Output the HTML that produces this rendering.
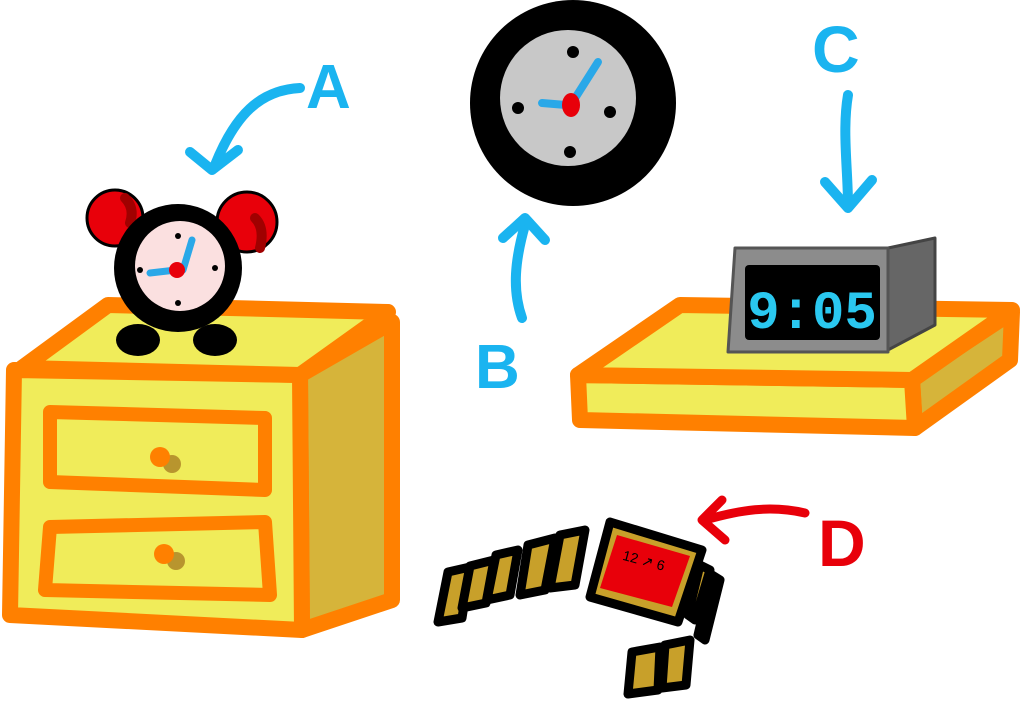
<!DOCTYPE html>
<html><head><meta charset="utf-8"><style>html,body{margin:0;padding:0;background:#fff}svg{display:block}</style></head>
<body>
<svg width="1023" height="705" viewBox="0 0 1023 705" xmlns="http://www.w3.org/2000/svg" stroke-linejoin="round" stroke-linecap="round">
<!-- nightstand -->
<polygon points="300,375 392,322 392,600 302,630" fill="#d6b43a" stroke="#ff8000" stroke-width="16"/>
<polygon points="14,370 300,375 302,630 10,615" fill="#f0ec5a" stroke="#ff8000" stroke-width="16"/>
<polygon points="22,368 108,305 388,312 300,375" fill="#f0ec5a" stroke="#ff8000" stroke-width="16"/>
<polygon points="50,412 265,418 265,490 50,482" fill="#f0ec5a" stroke="#ff8000" stroke-width="14"/>
<polygon points="50,527 265,522 270,595 45,590" fill="#f0ec5a" stroke="#ff8000" stroke-width="14"/>
<circle cx="172" cy="464" r="9" fill="#b8952e"/><circle cx="160" cy="457" r="10" fill="#ff8000"/>
<circle cx="176" cy="561" r="9" fill="#b8952e"/><circle cx="164" cy="554" r="10" fill="#ff8000"/>
<!-- alarm clock -->
<ellipse cx="115" cy="218" rx="28" ry="28" fill="#e8000a" stroke="#000" stroke-width="3"/>
<ellipse cx="247" cy="222" rx="30" ry="30" fill="#e8000a" stroke="#000" stroke-width="3"/>
<path d="M125 198 q10 10 5 25" stroke="#a00000" stroke-width="10" fill="none"/>
<path d="M255 218 q10 10 5 30" stroke="#a00000" stroke-width="10" fill="none"/>
<ellipse cx="138" cy="340" rx="22" ry="16" fill="#000"/><ellipse cx="215" cy="340" rx="22" ry="16" fill="#000"/>
<circle cx="178" cy="268" r="64" fill="#000"/>
<circle cx="180" cy="266" r="45" fill="#fbe0e0"/>
<path d="M183 270 L192 240 M176 270 L150 273" stroke="#2aa8e8" stroke-width="7" fill="none"/>
<circle cx="177" cy="270" r="8" fill="#e8000a"/>
<circle cx="178" cy="236" r="3" fill="#000"/><circle cx="140" cy="270" r="3" fill="#000"/><circle cx="215" cy="268" r="3" fill="#000"/><circle cx="178" cy="303" r="3" fill="#000"/>
<!-- arrow A -->
<path d="M300 88 C260 90 235 115 215 165" stroke="#1ab4f0" stroke-width="10" fill="none"/>
<path d="M190 152 L212 170 L238 150" stroke="#1ab4f0" stroke-width="10" fill="none"/>
<text x="306" y="108" font-family="Liberation Sans, sans-serif" font-weight="bold" font-size="62" fill="#1ab4f0">A</text>
<!-- wall clock -->
<circle cx="573" cy="103" r="103" fill="#000"/>
<circle cx="568" cy="98" r="68" fill="#c8c8c8"/>
<circle cx="573" cy="52" r="6" fill="#000"/><circle cx="518" cy="108" r="6" fill="#000"/><circle cx="610" cy="112" r="6" fill="#000"/><circle cx="570" cy="152" r="6" fill="#000"/>
<path d="M572 103 L598 62 M566 105 L542 103" stroke="#2aa8e8" stroke-width="8" fill="none"/>
<ellipse cx="571" cy="105" rx="9" ry="12" fill="#e8000a"/>
<!-- arrow B -->
<path d="M522 318 C512 290 515 260 525 225" stroke="#1ab4f0" stroke-width="10" fill="none"/>
<path d="M503 238 L525 218 L545 240" stroke="#1ab4f0" stroke-width="10" fill="none"/>
<text x="475" y="388" font-family="Liberation Sans, sans-serif" font-weight="bold" font-size="62" fill="#1ab4f0">B</text>
<!-- C -->
<text x="812" y="72" font-family="Liberation Sans, sans-serif" font-weight="bold" font-size="66" fill="#1ab4f0">C</text>
<path d="M848 95 C842 130 848 170 848 205" stroke="#1ab4f0" stroke-width="10" fill="none"/>
<path d="M825 182 L848 208 L872 180" stroke="#1ab4f0" stroke-width="10" fill="none"/>
<!-- shelf -->
<polygon points="912,378 1012,312 1010,360 915,428" fill="#d6b43a" stroke="#ff8000" stroke-width="16"/>
<polygon points="578,375 912,380 915,428 580,420" fill="#f0ec5a" stroke="#ff8000" stroke-width="16"/>
<polygon points="578,375 680,305 1012,310 912,380" fill="#f0ec5a" stroke="#ff8000" stroke-width="16"/>
<!-- digital clock -->
<polygon points="888,248 935,238 935,325 888,350" fill="#666" stroke="#444" stroke-width="3"/>
<polygon points="735,248 888,248 888,352 728,352" fill="#8c8c8c" stroke="#555" stroke-width="3"/>
<rect x="745" y="265" width="135" height="75" rx="4" fill="#000"/>
<text x="812" y="328" text-anchor="middle" font-family="Liberation Mono, monospace" font-weight="bold" font-size="54" fill="#2ac8f0">9:05</text>
<!-- watch -->
<g stroke="#000" stroke-width="9" fill="#c8a02a">
<polygon points="448,572 470,567 462,618 438,622"/>
<polygon points="496,555 518,550 510,595 487,600"/>
<polygon points="470,566 494,560 486,603 462,608"/>
<polygon points="560,535 585,530 575,585 550,588"/>
<polygon points="528,545 555,538 545,590 520,595"/>
<polygon points="700,565 710,570 695,620 688,615"/>
<polygon points="712,575 720,580 705,640 698,635"/>
<polygon points="632,652 660,647 658,690 628,694"/>
<polygon points="665,645 690,640 686,685 662,688"/>
<polygon points="610,522 702,550 678,622 590,597"/>
</g>
<polygon points="617,535 690,556 672,607 600,588" fill="#e8000a"/>
<text x="620" y="566" font-family="Liberation Sans, sans-serif" font-size="14" fill="#000" transform="rotate(15 645 570)">12 ↗ 6</text>
<!-- D -->
<path d="M805 513 C770 505 740 510 705 520" stroke="#e8000a" stroke-width="9" fill="none"/>
<path d="M722 500 L702 520 L725 540" stroke="#e8000a" stroke-width="9" fill="none"/>
<text x="818" y="566" font-family="Liberation Sans, sans-serif" font-weight="bold" font-size="66" fill="#e8000a">D</text>
</svg>
</body></html>
